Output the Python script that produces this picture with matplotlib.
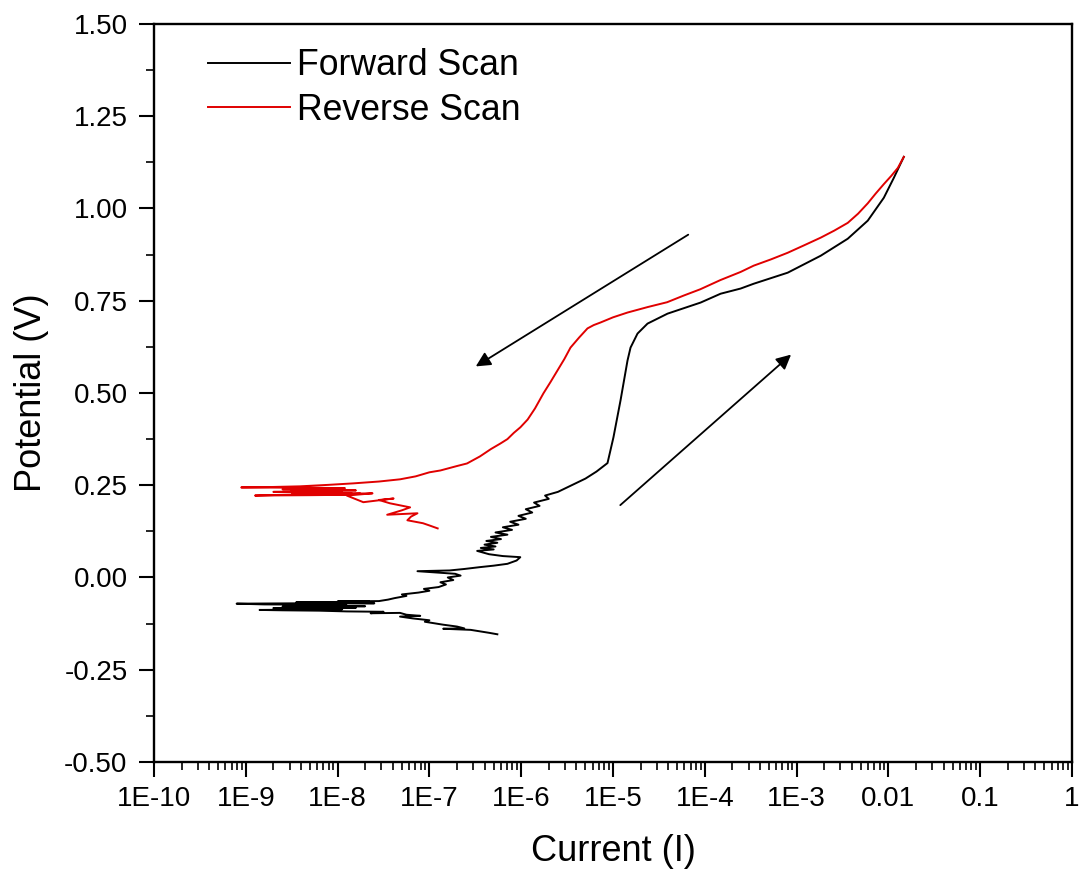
import numpy as np
import matplotlib
matplotlib.use("Agg")
import matplotlib.pyplot as plt
from matplotlib.ticker import FixedLocator, NullFormatter

plt.rcParams['font.family'] = ['Liberation Sans', 'DejaVu Sans']

# ---- data (log10 of current in A, potential in V) ----
forward_log_current = [
    -6.26, -6.35, -6.45, -6.55, -6.85, -6.62, -6.70, -6.85, -6.95, -7.05, -7.00, -7.18, -7.32, -7.10,
    -7.25, -7.32, -7.64, -7.50, -7.90, -8.20, -8.60, -8.85, -8.30, -7.95, -8.50, -8.10, -8.70, -7.80,
    -8.40, -8.00, -8.60, -7.70, -8.30, -7.90, -8.50, -8.10, -8.80, -9.10, -8.40, -7.60, -8.20, -7.80,
    -8.45, -7.65, -8.00, -7.55, -7.45, -7.38, -7.25, -7.30, -7.12, -7.00, -7.06, -6.90, -6.82, -6.88,
    -6.74, -6.80, -6.66, -6.72, -7.13, -6.78, -6.62, -6.45, -6.30, -6.15, -6.05, -6.01, -6.20, -6.35,
    -6.48, -6.30, -6.44, -6.28, -6.40, -6.26, -6.38, -6.22, -6.33, -6.15, -6.28, -6.10, -6.20, -6.03,
    -6.12, -5.95, -6.03, -5.88, -5.95, -5.80, -5.86, -5.70, -5.74, -5.60, -5.50, -5.40, -5.30, -5.18,
    -5.06, -4.995, -4.918, -4.842, -4.809, -4.733, -4.624, -4.406, -4.046, -3.828, -3.610, -3.468,
    -3.097, -2.737, -2.443, -2.225, -2.050, -1.941, -1.880, -1.832]
forward_potential = [
    -0.154, -0.150, -0.146, -0.142, -0.139, -0.138, -0.133, -0.128, -0.124, -0.120, -0.116, -0.111,
    -0.106, -0.104, -0.101, -0.096, -0.097, -0.093, -0.092, -0.090, -0.089, -0.088, -0.087, -0.086,
    -0.085, -0.084, -0.083, -0.082, -0.081, -0.080, -0.079, -0.078, -0.077, -0.076, -0.075, -0.074,
    -0.073, -0.071, -0.070, -0.070, -0.069, -0.068, -0.067, -0.066, -0.065, -0.064, -0.060, -0.056,
    -0.050, -0.046, -0.041, -0.036, -0.031, -0.026, -0.019, -0.013, -0.007, 0.000, 0.005, 0.010,
    0.017, 0.019, 0.023, 0.028, 0.032, 0.037, 0.046, 0.055, 0.058, 0.063, 0.072, 0.076, 0.080, 0.084,
    0.089, 0.094, 0.099, 0.104, 0.110, 0.116, 0.122, 0.129, 0.136, 0.143, 0.151, 0.159, 0.167, 0.176,
    0.185, 0.194, 0.203, 0.213, 0.222, 0.232, 0.244, 0.256, 0.268, 0.287, 0.310, 0.380, 0.480, 0.588,
    0.623, 0.661, 0.688, 0.715, 0.745, 0.769, 0.783, 0.796, 0.826, 0.872, 0.918, 0.967, 1.029, 1.083,
    1.115, 1.140]

reverse_log_current = [
    -1.832, -1.897, -1.970, -2.050, -2.140, -2.225, -2.330, -2.443, -2.590, -2.737, -2.920, -3.097,
    -3.280, -3.468, -3.610, -3.830, -4.050, -4.230, -4.410, -4.620, -4.842, -5.000, -5.136, -5.210,
    -5.278, -5.370, -5.463, -5.530, -5.605, -5.680, -5.758, -5.850, -5.930, -6.009, -6.080, -6.150,
    -6.227, -6.330, -6.450, -6.590, -6.700, -6.880, -7.000, -7.150, -7.320, -7.550, -7.830, -8.100,
    -8.410, -8.750, -9.050, -8.20, -7.92, -8.40, -8.00, -8.60, -7.95, -8.30, -7.80, -8.50, -8.10,
    -8.70, -7.95, -8.40, -7.85, -8.90, -8.30, -7.90, -8.50, -7.75, -8.20, -7.62, -7.90, -7.72, -7.39,
    -7.55, -7.43, -7.21, -7.30, -7.46, -7.13, -7.20, -7.24, -7.07, -7.00, -6.91]
reverse_potential = [
    1.140, 1.110, 1.088, 1.066, 1.040, 1.014, 0.986, 0.961, 0.940, 0.921, 0.900, 0.880, 0.862, 0.845,
    0.828, 0.806, 0.781, 0.764, 0.746, 0.733, 0.718, 0.705, 0.691, 0.684, 0.675, 0.650, 0.623, 0.592,
    0.561, 0.530, 0.499, 0.458, 0.428, 0.407, 0.392, 0.375, 0.363, 0.348, 0.328, 0.309, 0.302, 0.290,
    0.285, 0.274, 0.266, 0.260, 0.255, 0.251, 0.247, 0.245, 0.244, 0.243, 0.242, 0.241, 0.240, 0.239,
    0.238, 0.237, 0.236, 0.235, 0.234, 0.232, 0.231, 0.230, 0.229, 0.222, 0.223, 0.224, 0.225, 0.227,
    0.226, 0.228, 0.222, 0.204, 0.214, 0.210, 0.201, 0.190, 0.182, 0.170, 0.174, 0.165, 0.155, 0.147,
    0.141, 0.133]

series_labels = ["Forward Scan", "Reverse Scan"]
x_tick_values = [1e-10, 1e-9, 1e-8, 1e-7, 1e-6, 1e-5, 1e-4, 1e-3, 1e-2, 1e-1, 1]
x_tick_labels = ["1E-10", "1E-9", "1E-8", "1E-7", "1E-6", "1E-5", "1E-4", "1E-3", "0.01", "0.1", "1"]
y_tick_values = [-0.50, -0.25, 0.00, 0.25, 0.50, 0.75, 1.00, 1.25, 1.50]
# arrows: (start current, start potential) -> (end current, end potential)
reverse_arrow = ((6.6e-5, 0.929), (3.2e-7, 0.572))
forward_arrow = ((1.2e-5, 0.196), (8.7e-4, 0.604))

# ---- figure ----
fig = plt.figure(figsize=(10.8, 8.82), dpi=100)
ax = fig.add_axes([0.1426, 0.1361, 0.9926 - 0.1426, 0.9728 - 0.1361])

ax.plot(10.0 ** np.array(forward_log_current), forward_potential, color='black', lw=1.4,
        label=series_labels[0])
ax.plot(10.0 ** np.array(reverse_log_current), reverse_potential, color='#e00000', lw=1.4,
        label=series_labels[1])

for (s, e) in (reverse_arrow, forward_arrow):
    ax.annotate('', xy=e, xytext=s,
                arrowprops=dict(arrowstyle='-|>', color='black', lw=1.3, mutation_scale=22,
                                shrinkA=0, shrinkB=0))

ax.set_xscale('log')
ax.set_xlim(1e-10, 1)
ax.set_ylim(-0.5, 1.5)

ax.xaxis.set_major_locator(FixedLocator(x_tick_values))
ax.set_xticklabels(x_tick_labels)
minor_x = [m * d for d in x_tick_values[:-1] for m in range(2, 10)]
ax.xaxis.set_minor_locator(FixedLocator(minor_x))
ax.xaxis.set_minor_formatter(NullFormatter())

ax.yaxis.set_major_locator(FixedLocator(y_tick_values))
ax.set_yticklabels([f"{v:.2f}" for v in y_tick_values])
minor_y = [v + 0.125 for v in y_tick_values[:-1]]
ax.yaxis.set_minor_locator(FixedLocator(minor_y))

ax.tick_params(axis='both', which='major', direction='out', length=11, width=1.5,
               labelsize=20, top=False, right=False)
ax.tick_params(axis='both', which='minor', direction='out', length=6, width=1.2,
               top=False, right=False)
ax.tick_params(axis='x', which='major', pad=6)
ax.tick_params(axis='y', which='major', pad=8)

for sp in ax.spines.values():
    sp.set_linewidth(1.7)

ax.set_xlabel("Current (I)", fontsize=26, labelpad=16)
ax.set_ylabel("Potential (V)", fontsize=26, labelpad=11)

ax.legend(loc='upper left', bbox_to_anchor=(0.059, 0.967), frameon=False, fontsize=25.7,
          handlelength=2.3, handletextpad=0.2, labelspacing=0.27, borderpad=0,
          borderaxespad=0)

fig.savefig("out.png", dpi=100)
